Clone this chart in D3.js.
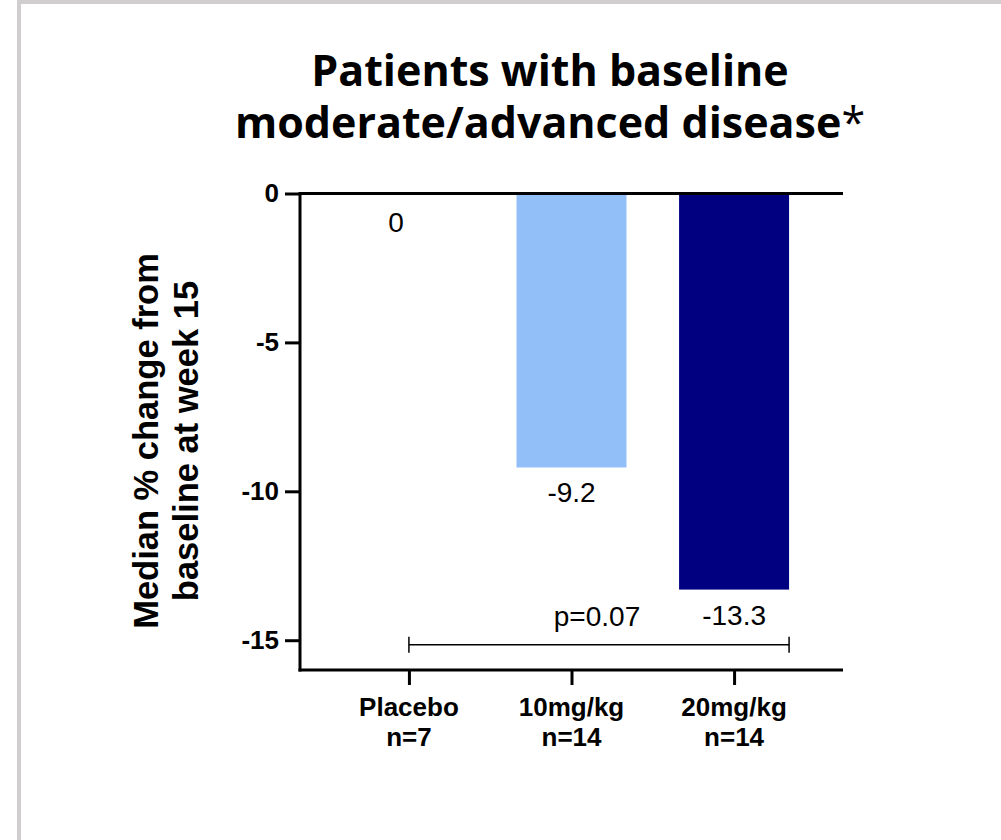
<!DOCTYPE html>
<html>
<head>
<meta charset="utf-8">
<script src="https://cdn.jsdelivr.net/npm/d3@7"></script>
<style>
  html, body { margin: 0; padding: 0; background: #fff; }
  svg { display: block; }
</style>
</head>
<body>
<svg id="chart" width="1001" height="840"></svg>
<script>
// Data
const categories = ["Placebo", "10mg/kg", "20mg/kg"];
const groupSizes = ["n=7", "n=14", "n=14"];
const medianChange = [0, -9.2, -13.3];
const valueLabels = ["0", "-9.2", "-13.3"];
const barColors = ["#ffffff", "#93bff8", "#000080"];
const yTicks = [0, -5, -10, -15];
const yTickLabels = ["0", "-5", "-10", "-15"];
const comparison = { from: "Placebo", to: "20mg/kg", level: -15.15, label: "p=0.07" };

(function () {
const svg = d3.select("#chart");
const W = 1001, H = 840;

// Outer frame
svg.append("rect")
  .attr("x", 19).attr("y", 2)
  .attr("width", W + 10).attr("height", H + 10)
  .attr("fill", "none")
  .attr("stroke", "#d0cece")
  .attr("stroke-width", 4);

// Plot area
const plotLeft = 300, plotRight = 843, plotTop = 193.5, plotBottom = 670;

const x = d3.scalePoint()
  .domain(categories)
  .range([plotLeft, plotRight])
  .padding(0.67);

const y = d3.scaleLinear()
  .domain([0, -16])
  .range([plotTop, plotBottom]);

const barWidth = 110;

// Title
const title = svg.append("text")
  .attr("x", 550)
  .attr("text-anchor", "middle")
  .attr("font-family", "'Open Sans', sans-serif")
  .attr("font-weight", 700)
  .attr("font-size", 43)
  .attr("fill", "#000");
title.append("tspan").attr("x", 550).attr("y", 86).text("Patients with baseline");
const t2 = title.append("tspan").attr("x", 550).attr("y", 138);
t2.append("tspan").text("moderate/advanced disease");
t2.append("tspan").attr("font-weight", 400).text("*");

// Bars
svg.append("g").selectAll("rect")
  .data(categories)
  .join("rect")
  .attr("x", d => x(d) - barWidth / 2)
  .attr("y", (d, i) => y(Math.max(0, medianChange[i])))
  .attr("width", barWidth)
  .attr("height", (d, i) => Math.abs(y(medianChange[i]) - y(0)))
  .attr("fill", (d, i) => barColors[i]);

// Value labels under the bars
svg.append("g").selectAll("text")
  .data(categories)
  .join("text")
  .attr("x", (d, i) => x(d) + (i === 0 ? -13 : 0))
  .attr("y", (d, i) => y(medianChange[i]) + (i === 0 ? 38 : 35))
  .attr("text-anchor", "middle")
  .attr("font-family", "'Liberation Sans', Arial, sans-serif")
  .attr("font-size", 28)
  .attr("fill", "#000")
  .text((d, i) => valueLabels[i]);

// Y axis
const yAxis = d3.axisLeft(y)
  .tickValues(yTicks)
  .tickFormat((d, i) => yTickLabels[i])
  .tickSize(15)
  .tickPadding(6)
  .tickSizeOuter(0);

const gy = svg.append("g")
  .attr("transform", `translate(${plotLeft},0)`)
  .call(yAxis);
gy.select(".domain").attr("stroke", "#000").attr("stroke-width", 3)
  .attr("d", `M0,${plotTop - 1.5}V${plotBottom + 1.5}`);
gy.selectAll(".tick line").attr("stroke", "#000").attr("stroke-width", 3);
gy.selectAll(".tick text")
  .attr("font-family", "'Liberation Sans', Arial, sans-serif")
  .attr("font-weight", 700)
  .attr("font-size", 26)
  .attr("fill", "#000");

// Zero baseline across the plot
svg.append("line")
  .attr("x1", plotLeft).attr("x2", plotRight)
  .attr("y1", y(0)).attr("y2", y(0))
  .attr("stroke", "#000").attr("stroke-width", 3);

// X axis
const xAxis = d3.axisBottom(x)
  .tickSize(15)
  .tickSizeOuter(0)
  .tickFormat("");
const gx = svg.append("g")
  .attr("transform", `translate(0,${plotBottom})`)
  .call(xAxis);
gx.select(".domain").attr("stroke", "#000").attr("stroke-width", 3)
  .attr("d", `M${plotLeft - 1.5},0H${plotRight}`);
gx.selectAll(".tick line").attr("stroke", "#000").attr("stroke-width", 3);

// Category labels
const catLabels = svg.append("g").selectAll("text")
  .data(categories)
  .join("text")
  .attr("text-anchor", "middle")
  .attr("font-family", "'Liberation Sans', Arial, sans-serif")
  .attr("font-weight", 700)
  .attr("font-size", 26)
  .attr("fill", "#000");
catLabels.append("tspan").attr("x", d => x(d)).attr("y", plotBottom + 46).text(d => d);
catLabels.append("tspan").attr("x", d => x(d)).attr("y", plotBottom + 76).text((d, i) => groupSizes[i]);

// Y axis title
const yTitle = svg.append("text")
  .attr("transform", "translate(0,441) rotate(-90)")
  .attr("text-anchor", "middle")
  .attr("font-family", "'Liberation Sans', Arial, sans-serif")
  .attr("font-weight", 700)
  .attr("font-size", 34.5)
  .attr("fill", "#000");
yTitle.append("tspan").attr("x", 0).attr("y", 158).text("Median % change from");
yTitle.append("tspan").attr("x", 0).attr("y", 198).text("baseline at week 15");

// Significance bracket
const by = y(comparison.level);
const bx1 = x(comparison.from), bx2 = x(comparison.to) + barWidth / 2;
const bracket = svg.append("g").attr("stroke", "#000").attr("stroke-width", 1.5);
bracket.append("line").attr("x1", bx1).attr("x2", bx2).attr("y1", by).attr("y2", by);
bracket.append("line").attr("x1", bx1).attr("x2", bx1).attr("y1", by - 8).attr("y2", by + 8);
bracket.append("line").attr("x1", bx2).attr("x2", bx2).attr("y1", by - 8).attr("y2", by + 8);

svg.append("text")
  .attr("x", 597)
  .attr("y", by - 19)
  .attr("text-anchor", "middle")
  .attr("font-family", "'Liberation Sans', Arial, sans-serif")
  .attr("font-size", 28)
  .attr("fill", "#000")
  .text(comparison.label);
})();
</script>
</body>
</html>
